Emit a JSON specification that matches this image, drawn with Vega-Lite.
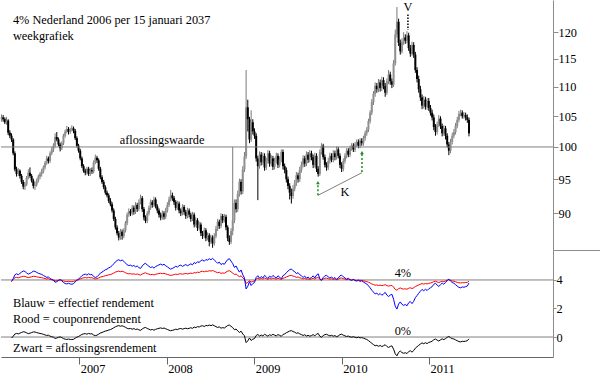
{
"$schema":"https://vega.github.io/schema/vega-lite/v6.json",
"padding":0,"background":"white","spacing":0,"bounds":"flush",
"config":{"view":{"stroke":null},"font":"Liberation Serif",
"axis":{"labelFont":"Liberation Serif","labelFontSize":12.3,"labelColor":"#000","domainColor":"#8c8c8c","tickColor":"#8c8c8c","grid":false,"title":null},
"text":{"font":"Liberation Serif","fontSize":12.3,"color":"#000"}},
"datasets":{"weeks":[
{"d":"2006-02-10","o":104.6,"h":105.3,"l":104.1,"c":104.8},
{"d":"2006-02-17","o":104.8,"h":105.2,"l":104.1,"c":104.5},
{"d":"2006-02-24","o":104.5,"h":104.8,"l":103.7,"c":104.0},
{"d":"2006-03-03","o":104.0,"h":104.9,"l":103.6,"c":104.3},
{"d":"2006-03-10","o":104.3,"h":104.5,"l":101.9,"c":102.3},
{"d":"2006-03-17","o":102.3,"h":102.7,"l":101.4,"c":101.8},
{"d":"2006-03-24","o":101.8,"h":102.2,"l":100.8,"c":101.2,"e":3.88,"r":3.95,"a":-0.07},
{"d":"2006-03-31","o":101.2,"h":101.4,"l":98.7,"c":99.0,"e":4.10,"r":4.04,"a":0.06},
{"d":"2006-04-07","o":99.0,"h":99.3,"l":96.2,"c":96.5,"e":4.36,"r":4.15,"a":0.21},
{"d":"2006-04-14","o":96.5,"h":96.9,"l":95.4,"c":95.8,"e":4.43,"r":4.18,"a":0.25},
{"d":"2006-04-21","o":95.8,"h":96.7,"l":95.5,"c":96.3,"e":4.37,"r":4.15,"a":0.22},
{"d":"2006-04-28","o":96.3,"h":96.5,"l":95.1,"c":95.5,"e":4.46,"r":4.19,"a":0.27},
{"d":"2006-05-05","o":95.5,"h":95.8,"l":94.3,"c":94.6,"e":4.55,"r":4.23,"a":0.32},
{"d":"2006-05-12","o":94.6,"h":94.9,"l":93.5,"c":93.9,"e":4.63,"r":4.26,"a":0.37},
{"d":"2006-05-19","o":93.9,"h":94.6,"l":93.4,"c":94.2,"e":4.60,"r":4.25,"a":0.35},
{"d":"2006-05-26","o":94.2,"h":95.5,"l":94.0,"c":95.2,"e":4.49,"r":4.20,"a":0.29},
{"d":"2006-06-02","o":95.2,"h":96.5,"l":95.0,"c":96.0,"e":4.41,"r":4.17,"a":0.24},
{"d":"2006-06-09","o":96.0,"h":96.8,"l":95.2,"c":95.5,"e":4.46,"r":4.19,"a":0.27},
{"d":"2006-06-16","o":95.5,"h":95.8,"l":94.5,"c":94.8,"e":4.53,"r":4.22,"a":0.31},
{"d":"2006-06-23","o":94.8,"h":95.1,"l":93.6,"c":94.0,"e":4.62,"r":4.26,"a":0.36},
{"d":"2006-06-30","o":94.0,"h":94.6,"l":93.4,"c":94.2,"e":4.60,"r":4.25,"a":0.35},
{"d":"2006-07-07","o":94.2,"h":95.1,"l":93.9,"c":94.8,"e":4.53,"r":4.22,"a":0.31},
{"d":"2006-07-14","o":94.8,"h":95.7,"l":94.5,"c":95.4,"e":4.47,"r":4.19,"a":0.28},
{"d":"2006-07-21","o":95.4,"h":96.1,"l":95.0,"c":95.8,"e":4.43,"r":4.18,"a":0.25},
{"d":"2006-07-28","o":95.8,"h":96.6,"l":95.4,"c":96.2,"e":4.39,"r":4.16,"a":0.23},
{"d":"2006-08-04","o":96.2,"h":97.1,"l":95.9,"c":96.8,"e":4.32,"r":4.13,"a":0.19},
{"d":"2006-08-11","o":96.8,"h":97.8,"l":96.5,"c":97.5,"e":4.25,"r":4.10,"a":0.15},
{"d":"2006-08-18","o":97.5,"h":98.6,"l":97.2,"c":98.2,"e":4.18,"r":4.07,"a":0.11},
{"d":"2006-08-25","o":98.2,"h":98.5,"l":97.4,"c":97.8,"e":4.22,"r":4.09,"a":0.13},
{"d":"2006-09-01","o":97.8,"h":99.3,"l":97.5,"c":99.0,"e":4.10,"r":4.04,"a":0.06},
{"d":"2006-09-08","o":99.0,"h":100.0,"l":98.7,"c":99.6,"e":4.04,"r":4.02,"a":0.02},
{"d":"2006-09-15","o":99.6,"h":100.6,"l":99.2,"c":100.2,"e":3.98,"r":3.99,"a":-0.01},
{"d":"2006-09-22","o":100.2,"h":102.2,"l":99.9,"c":101.6,"e":3.84,"r":3.94,"a":-0.10},
{"d":"2006-09-29","o":101.6,"h":102.4,"l":100.9,"c":101.2,"e":3.88,"r":3.95,"a":-0.07},
{"d":"2006-10-06","o":101.2,"h":101.5,"l":100.1,"c":100.4,"e":3.96,"r":3.98,"a":-0.02},
{"d":"2006-10-13","o":100.4,"h":100.7,"l":99.3,"c":99.8,"e":4.02,"r":4.01,"a":0.01},
{"d":"2006-10-20","o":99.8,"h":100.9,"l":99.5,"c":100.6,"e":3.94,"r":3.98,"a":-0.04},
{"d":"2006-10-27","o":100.6,"h":102.1,"l":100.3,"c":101.8,"e":3.82,"r":3.93,"a":-0.11},
{"d":"2006-11-03","o":101.8,"h":102.8,"l":101.5,"c":102.5,"e":3.75,"r":3.90,"a":-0.15},
{"d":"2006-11-10","o":102.5,"h":103.4,"l":102.2,"c":102.9,"e":3.72,"r":3.89,"a":-0.17},
{"d":"2006-11-17","o":102.9,"h":103.2,"l":102.0,"c":102.4,"e":3.77,"r":3.91,"a":-0.14},
{"d":"2006-11-24","o":102.4,"h":103.1,"l":102.1,"c":102.8,"e":3.72,"r":3.89,"a":-0.17},
{"d":"2006-12-01","o":102.8,"h":103.5,"l":102.5,"c":103.0,"e":3.70,"r":3.88,"a":-0.18},
{"d":"2006-12-08","o":103.0,"h":103.3,"l":102.2,"c":102.6,"e":3.74,"r":3.90,"a":-0.16},
{"d":"2006-12-15","o":102.6,"h":102.9,"l":101.1,"c":101.4,"e":3.86,"r":3.94,"a":-0.08},
{"d":"2006-12-22","o":101.4,"h":101.7,"l":99.9,"c":100.2,"e":3.98,"r":3.99,"a":-0.01},
{"d":"2006-12-29","o":100.2,"h":100.5,"l":99.1,"c":99.4,"e":4.06,"r":4.02,"a":0.04},
{"d":"2007-01-05","o":99.4,"h":99.7,"l":97.9,"c":98.2,"e":4.18,"r":4.07,"a":0.11},
{"d":"2007-01-12","o":98.2,"h":98.5,"l":96.7,"c":97.0,"e":4.30,"r":4.12,"a":0.18},
{"d":"2007-01-19","o":97.0,"h":97.3,"l":96.0,"c":96.3,"e":4.37,"r":4.15,"a":0.22},
{"d":"2007-01-26","o":96.3,"h":96.6,"l":95.6,"c":96.0,"e":4.41,"r":4.17,"a":0.24},
{"d":"2007-02-02","o":96.0,"h":96.9,"l":95.7,"c":96.6,"e":4.34,"r":4.14,"a":0.20},
{"d":"2007-02-09","o":96.6,"h":96.9,"l":95.5,"c":95.8,"e":4.43,"r":4.18,"a":0.25},
{"d":"2007-02-16","o":95.8,"h":96.7,"l":95.5,"c":96.4,"e":4.37,"r":4.15,"a":0.22},
{"d":"2007-02-23","o":96.4,"h":96.8,"l":95.8,"c":96.2,"e":4.39,"r":4.16,"a":0.23},
{"d":"2007-03-02","o":96.2,"h":97.9,"l":95.9,"c":97.6,"e":4.24,"r":4.10,"a":0.14},
{"d":"2007-03-09","o":97.6,"h":98.8,"l":97.3,"c":98.3,"e":4.17,"r":4.07,"a":0.10},
{"d":"2007-03-16","o":98.3,"h":98.6,"l":97.5,"c":97.9,"e":4.22,"r":4.09,"a":0.13},
{"d":"2007-03-23","o":97.9,"h":98.2,"l":96.3,"c":96.6,"e":4.34,"r":4.14,"a":0.20},
{"d":"2007-03-30","o":96.6,"h":96.9,"l":95.0,"c":95.3,"e":4.48,"r":4.20,"a":0.28},
{"d":"2007-04-06","o":95.3,"h":95.6,"l":94.3,"c":94.6,"e":4.55,"r":4.23,"a":0.32},
{"d":"2007-04-13","o":94.6,"h":94.9,"l":93.5,"c":93.8,"e":4.63,"r":4.26,"a":0.37},
{"d":"2007-04-20","o":93.8,"h":94.1,"l":92.7,"c":93.0,"e":4.72,"r":4.30,"a":0.42},
{"d":"2007-04-27","o":93.0,"h":93.3,"l":92.3,"c":92.6,"e":4.76,"r":4.32,"a":0.44},
{"d":"2007-05-04","o":92.6,"h":92.9,"l":91.5,"c":91.8,"e":4.85,"r":4.36,"a":0.49},
{"d":"2007-05-11","o":91.8,"h":92.2,"l":91.0,"c":91.3,"e":4.90,"r":4.38,"a":0.52},
{"d":"2007-05-18","o":91.3,"h":91.6,"l":90.1,"c":90.4,"e":5.00,"r":4.42,"a":0.58},
{"d":"2007-05-25","o":90.4,"h":90.7,"l":88.9,"c":89.2,"e":5.13,"r":4.48,"a":0.65},
{"d":"2007-06-01","o":89.2,"h":89.5,"l":87.7,"c":88.0,"e":5.27,"r":4.55,"a":0.72},
{"d":"2007-06-08","o":88.0,"h":88.3,"l":86.9,"c":87.2,"e":5.36,"r":4.59,"a":0.77},
{"d":"2007-06-15","o":87.2,"h":87.5,"l":86.2,"c":86.6,"e":5.42,"r":4.62,"a":0.80},
{"d":"2007-06-22","o":86.6,"h":87.8,"l":86.3,"c":87.4,"e":5.34,"r":4.58,"a":0.76},
{"d":"2007-06-29","o":87.4,"h":87.7,"l":86.3,"c":86.8,"e":5.40,"r":4.61,"a":0.79},
{"d":"2007-07-06","o":86.8,"h":87.9,"l":86.5,"c":87.6,"e":5.31,"r":4.57,"a":0.74},
{"d":"2007-07-13","o":87.6,"h":88.9,"l":87.3,"c":88.6,"e":5.19,"r":4.51,"a":0.68},
{"d":"2007-07-20","o":88.6,"h":90.1,"l":88.3,"c":89.8,"e":5.06,"r":4.45,"a":0.61},
{"d":"2007-07-27","o":89.8,"h":90.7,"l":89.5,"c":90.3,"e":5.01,"r":4.43,"a":0.58},
{"d":"2007-08-03","o":90.3,"h":90.6,"l":89.6,"c":90.0,"e":5.04,"r":4.44,"a":0.60},
{"d":"2007-08-10","o":90.0,"h":91.2,"l":89.7,"c":90.8,"e":4.96,"r":4.41,"a":0.55},
{"d":"2007-08-17","o":90.8,"h":91.1,"l":89.8,"c":90.2,"e":5.02,"r":4.43,"a":0.59},
{"d":"2007-08-24","o":90.2,"h":91.6,"l":89.9,"c":91.2,"e":4.92,"r":4.39,"a":0.53},
{"d":"2007-08-31","o":91.2,"h":91.5,"l":90.2,"c":90.6,"e":4.98,"r":4.42,"a":0.56},
{"d":"2007-09-07","o":90.6,"h":92.0,"l":90.3,"c":91.6,"e":4.87,"r":4.37,"a":0.50},
{"d":"2007-09-14","o":91.6,"h":92.7,"l":91.3,"c":92.2,"e":4.81,"r":4.34,"a":0.47},
{"d":"2007-09-21","o":92.2,"h":92.5,"l":90.2,"c":90.6,"e":4.98,"r":4.42,"a":0.56},
{"d":"2007-09-28","o":90.6,"h":90.9,"l":89.0,"c":89.4,"e":5.11,"r":4.47,"a":0.64},
{"d":"2007-10-05","o":89.4,"h":89.7,"l":88.6,"c":88.9,"e":5.17,"r":4.50,"a":0.67},
{"d":"2007-10-12","o":88.9,"h":90.3,"l":88.6,"c":90.0,"e":5.04,"r":4.44,"a":0.60},
{"d":"2007-10-19","o":90.0,"h":91.1,"l":89.7,"c":90.8,"e":4.96,"r":4.41,"a":0.55},
{"d":"2007-10-26","o":90.8,"h":92.0,"l":90.5,"c":91.6,"e":4.87,"r":4.37,"a":0.50},
{"d":"2007-11-02","o":91.6,"h":91.9,"l":90.8,"c":91.2,"e":4.92,"r":4.39,"a":0.53},
{"d":"2007-11-09","o":91.2,"h":92.4,"l":90.9,"c":92.0,"e":4.83,"r":4.35,"a":0.48},
{"d":"2007-11-16","o":92.0,"h":92.3,"l":90.7,"c":91.0,"e":4.94,"r":4.40,"a":0.54},
{"d":"2007-11-23","o":91.0,"h":91.3,"l":90.0,"c":90.4,"e":5.00,"r":4.42,"a":0.58},
{"d":"2007-11-30","o":90.4,"h":90.7,"l":89.4,"c":89.8,"e":5.06,"r":4.45,"a":0.61},
{"d":"2007-12-07","o":89.8,"h":90.1,"l":89.0,"c":89.4,"e":5.11,"r":4.47,"a":0.64},
{"d":"2007-12-14","o":89.4,"h":90.4,"l":89.1,"c":90.0,"e":5.04,"r":4.44,"a":0.60},
{"d":"2007-12-21","o":90.0,"h":90.3,"l":89.1,"c":89.5,"e":5.10,"r":4.47,"a":0.63},
{"d":"2007-12-28","o":89.5,"h":90.8,"l":89.2,"c":90.4,"e":5.00,"r":4.42,"a":0.58},
{"d":"2008-01-04","o":90.4,"h":91.6,"l":90.1,"c":91.2,"e":4.92,"r":4.39,"a":0.53},
{"d":"2008-01-11","o":91.2,"h":92.4,"l":90.9,"c":92.0,"e":4.83,"r":4.35,"a":0.48},
{"d":"2008-01-18","o":92.0,"h":93.4,"l":91.7,"c":92.6,"e":4.76,"r":4.32,"a":0.44},
{"d":"2008-01-25","o":92.6,"h":93.0,"l":91.8,"c":92.2,"e":4.81,"r":4.34,"a":0.47},
{"d":"2008-02-01","o":92.2,"h":92.5,"l":91.2,"c":91.6,"e":4.87,"r":4.37,"a":0.50},
{"d":"2008-02-08","o":91.6,"h":91.9,"l":90.4,"c":90.8,"e":4.96,"r":4.41,"a":0.55},
{"d":"2008-02-15","o":90.8,"h":91.8,"l":90.5,"c":91.4,"e":4.90,"r":4.38,"a":0.52},
{"d":"2008-02-22","o":91.4,"h":91.7,"l":90.0,"c":90.4,"e":5.00,"r":4.42,"a":0.58},
{"d":"2008-02-29","o":90.4,"h":90.7,"l":89.6,"c":90.0,"e":5.04,"r":4.44,"a":0.60},
{"d":"2008-03-07","o":90.0,"h":91.3,"l":89.7,"c":90.9,"e":4.95,"r":4.40,"a":0.55},
{"d":"2008-03-14","o":90.9,"h":91.2,"l":89.8,"c":90.2,"e":5.02,"r":4.43,"a":0.59},
{"d":"2008-03-21","o":90.2,"h":90.5,"l":89.2,"c":89.6,"e":5.08,"r":4.46,"a":0.62},
{"d":"2008-03-28","o":89.6,"h":90.8,"l":89.3,"c":90.4,"e":5.00,"r":4.42,"a":0.58},
{"d":"2008-04-04","o":90.4,"h":90.7,"l":89.4,"c":89.8,"e":5.06,"r":4.45,"a":0.61},
{"d":"2008-04-11","o":89.8,"h":90.1,"l":88.8,"c":89.2,"e":5.13,"r":4.48,"a":0.65},
{"d":"2008-04-18","o":89.2,"h":90.2,"l":88.9,"c":89.8,"e":5.06,"r":4.45,"a":0.61},
{"d":"2008-04-25","o":89.8,"h":90.1,"l":88.0,"c":88.4,"e":5.22,"r":4.52,"a":0.70},
{"d":"2008-05-02","o":88.4,"h":89.4,"l":88.1,"c":89.0,"e":5.15,"r":4.49,"a":0.66},
{"d":"2008-05-09","o":89.0,"h":89.3,"l":87.5,"c":87.9,"e":5.28,"r":4.55,"a":0.73},
{"d":"2008-05-16","o":87.9,"h":88.8,"l":87.6,"c":88.4,"e":5.22,"r":4.52,"a":0.70},
{"d":"2008-05-23","o":88.4,"h":88.7,"l":86.8,"c":87.2,"e":5.36,"r":4.59,"a":0.77},
{"d":"2008-05-30","o":87.2,"h":87.5,"l":86.4,"c":86.8,"e":5.40,"r":4.61,"a":0.79},
{"d":"2008-06-06","o":86.8,"h":88.0,"l":86.5,"c":87.6,"e":5.31,"r":4.57,"a":0.74},
{"d":"2008-06-13","o":87.6,"h":87.9,"l":86.1,"c":86.5,"e":5.43,"r":4.62,"a":0.81},
{"d":"2008-06-20","o":86.5,"h":87.3,"l":86.2,"c":86.9,"e":5.39,"r":4.60,"a":0.79},
{"d":"2008-06-27","o":86.9,"h":87.2,"l":85.4,"c":86.0,"e":5.49,"r":4.65,"a":0.84},
{"d":"2008-07-04","o":86.0,"h":87.0,"l":85.7,"c":86.6,"e":5.42,"r":4.62,"a":0.80},
{"d":"2008-07-11","o":86.6,"h":86.9,"l":85.2,"c":85.8,"e":5.51,"r":4.66,"a":0.85},
{"d":"2008-07-18","o":85.8,"h":87.2,"l":85.5,"c":86.8,"e":5.40,"r":4.61,"a":0.79},
{"d":"2008-07-25","o":86.8,"h":88.2,"l":86.5,"c":87.8,"e":5.29,"r":4.56,"a":0.73},
{"d":"2008-08-01","o":87.8,"h":89.2,"l":87.5,"c":88.8,"e":5.17,"r":4.50,"a":0.67},
{"d":"2008-08-08","o":88.8,"h":89.1,"l":87.8,"c":88.2,"e":5.25,"r":4.54,"a":0.71},
{"d":"2008-08-15","o":88.2,"h":90.0,"l":87.9,"c":89.6,"e":5.08,"r":4.46,"a":0.62},
{"d":"2008-08-22","o":89.6,"h":89.9,"l":88.6,"c":89.0,"e":5.15,"r":4.49,"a":0.66},
{"d":"2008-08-29","o":89.0,"h":89.9,"l":88.7,"c":89.5,"e":5.10,"r":4.47,"a":0.63},
{"d":"2008-09-05","o":89.5,"h":89.8,"l":87.6,"c":88.0,"e":5.27,"r":4.55,"a":0.72},
{"d":"2008-09-12","o":88.0,"h":88.3,"l":86.1,"c":86.5,"e":5.43,"r":4.62,"a":0.81},
{"d":"2008-09-19","o":86.5,"h":86.9,"l":85.6,"c":86.0,"e":5.49,"r":4.65,"a":0.84},
{"d":"2008-09-26","o":86.0,"h":87.9,"l":85.7,"c":87.5,"e":5.32,"r":4.57,"a":0.75},
{"d":"2008-10-03","o":87.5,"h":100.0,"l":86.9,"c":89.0,"e":5.15,"r":4.49,"a":0.66},
{"d":"2008-10-10","o":89.0,"h":92.0,"l":88.6,"c":91.5,"e":4.88,"r":4.37,"a":0.51},
{"d":"2008-10-17","o":91.5,"h":92.0,"l":90.1,"c":90.6,"e":4.98,"r":4.42,"a":0.56},
{"d":"2008-10-24","o":90.6,"h":93.3,"l":90.2,"c":92.8,"e":4.74,"r":4.31,"a":0.43},
{"d":"2008-10-31","o":92.8,"h":95.1,"l":92.4,"c":94.6,"e":4.55,"r":4.23,"a":0.32},
{"d":"2008-11-07","o":94.6,"h":95.0,"l":92.7,"c":93.2,"e":4.70,"r":4.29,"a":0.41},
{"d":"2008-11-14","o":93.2,"h":97.0,"l":92.8,"c":96.5,"e":4.36,"r":4.15,"a":0.21},
{"d":"2008-11-21","o":96.5,"h":99.2,"l":96.1,"c":98.5,"e":4.15,"r":4.06,"a":0.09},
{"d":"2008-11-28","o":98.5,"h":113.0,"l":98.1,"c":106.5,"e":3.37,"r":3.76,"a":-0.39},
{"d":"2008-12-05","o":106.5,"h":107.8,"l":102.5,"c":104.5,"e":3.56,"r":3.83,"a":-0.27},
{"d":"2008-12-12","o":104.5,"h":104.9,"l":100.6,"c":101.2,"e":3.88,"r":3.95,"a":-0.07},
{"d":"2008-12-19","o":101.2,"h":106.0,"l":100.8,"c":104.0,"e":3.61,"r":3.85,"a":-0.24},
{"d":"2008-12-26","o":104.0,"h":104.5,"l":102.0,"c":102.5,"e":3.75,"r":3.90,"a":-0.15},
{"d":"2009-01-02","o":102.5,"h":103.0,"l":101.3,"c":101.8,"e":3.82,"r":3.93,"a":-0.11},
{"d":"2009-01-09","o":101.8,"h":102.2,"l":97.7,"c":98.2,"e":4.18,"r":4.07,"a":0.11},
{"d":"2009-01-16","o":98.2,"h":98.6,"l":91.9,"c":97.0,"e":4.30,"r":4.12,"a":0.18},
{"d":"2009-01-23","o":97.0,"h":99.3,"l":96.6,"c":98.8,"e":4.12,"r":4.05,"a":0.07},
{"d":"2009-01-30","o":98.8,"h":99.2,"l":97.1,"c":97.6,"e":4.24,"r":4.10,"a":0.14},
{"d":"2009-02-06","o":97.6,"h":99.1,"l":97.2,"c":98.6,"e":4.14,"r":4.06,"a":0.08},
{"d":"2009-02-13","o":98.6,"h":99.0,"l":96.3,"c":96.8,"e":4.32,"r":4.13,"a":0.19},
{"d":"2009-02-20","o":96.8,"h":98.3,"l":96.4,"c":97.8,"e":4.22,"r":4.09,"a":0.13},
{"d":"2009-02-27","o":97.8,"h":99.5,"l":97.4,"c":99.0,"e":4.10,"r":4.04,"a":0.06},
{"d":"2009-03-06","o":99.0,"h":99.4,"l":96.9,"c":97.4,"e":4.27,"r":4.11,"a":0.16},
{"d":"2009-03-13","o":97.4,"h":98.7,"l":97.0,"c":98.2,"e":4.18,"r":4.07,"a":0.11},
{"d":"2009-03-20","o":98.2,"h":98.6,"l":96.4,"c":96.9,"e":4.32,"r":4.13,"a":0.19},
{"d":"2009-03-27","o":96.9,"h":98.3,"l":96.5,"c":97.8,"e":4.22,"r":4.09,"a":0.13},
{"d":"2009-04-03","o":97.8,"h":99.1,"l":97.4,"c":98.6,"e":4.14,"r":4.06,"a":0.08},
{"d":"2009-04-10","o":98.6,"h":99.0,"l":96.7,"c":97.2,"e":4.29,"r":4.12,"a":0.17},
{"d":"2009-04-17","o":97.2,"h":98.5,"l":96.8,"c":98.0,"e":4.20,"r":4.08,"a":0.12},
{"d":"2009-04-24","o":98.0,"h":99.6,"l":97.6,"c":99.2,"e":4.08,"r":4.03,"a":0.05},
{"d":"2009-05-01","o":99.2,"h":99.6,"l":96.5,"c":97.0,"e":4.30,"r":4.12,"a":0.18},
{"d":"2009-05-08","o":97.0,"h":97.4,"l":95.9,"c":96.4,"e":4.37,"r":4.15,"a":0.22},
{"d":"2009-05-15","o":96.4,"h":96.8,"l":94.5,"c":95.0,"e":4.51,"r":4.21,"a":0.30},
{"d":"2009-05-22","o":95.0,"h":95.4,"l":93.5,"c":94.0,"e":4.62,"r":4.26,"a":0.36},
{"d":"2009-05-29","o":94.0,"h":94.4,"l":92.0,"c":93.0,"e":4.72,"r":4.30,"a":0.42},
{"d":"2009-06-05","o":93.0,"h":93.6,"l":91.4,"c":92.5,"e":4.77,"r":4.32,"a":0.45},
{"d":"2009-06-12","o":92.5,"h":94.1,"l":92.1,"c":93.6,"e":4.65,"r":4.27,"a":0.38},
{"d":"2009-06-19","o":93.6,"h":94.9,"l":93.2,"c":94.4,"e":4.58,"r":4.24,"a":0.34},
{"d":"2009-06-26","o":94.4,"h":96.1,"l":94.0,"c":95.6,"e":4.44,"r":4.18,"a":0.26},
{"d":"2009-07-03","o":95.6,"h":96.0,"l":94.5,"c":95.0,"e":4.51,"r":4.21,"a":0.30},
{"d":"2009-07-10","o":95.0,"h":96.9,"l":94.6,"c":96.4,"e":4.37,"r":4.15,"a":0.22},
{"d":"2009-07-17","o":96.4,"h":97.7,"l":96.0,"c":97.2,"e":4.29,"r":4.12,"a":0.17},
{"d":"2009-07-24","o":97.2,"h":98.7,"l":96.8,"c":98.2,"e":4.18,"r":4.07,"a":0.11},
{"d":"2009-07-31","o":98.2,"h":98.6,"l":96.9,"c":97.4,"e":4.27,"r":4.11,"a":0.16},
{"d":"2009-08-07","o":97.4,"h":99.3,"l":97.0,"c":98.8,"e":4.12,"r":4.05,"a":0.07},
{"d":"2009-08-14","o":98.8,"h":99.2,"l":97.5,"c":98.0,"e":4.20,"r":4.08,"a":0.12},
{"d":"2009-08-21","o":98.0,"h":99.5,"l":97.6,"c":99.0,"e":4.10,"r":4.04,"a":0.06},
{"d":"2009-08-28","o":99.0,"h":99.4,"l":97.9,"c":98.4,"e":4.17,"r":4.07,"a":0.10},
{"d":"2009-09-04","o":98.4,"h":98.8,"l":96.7,"c":97.2,"e":4.29,"r":4.12,"a":0.17},
{"d":"2009-09-11","o":97.2,"h":99.1,"l":96.8,"c":98.6,"e":4.14,"r":4.06,"a":0.08},
{"d":"2009-09-18","o":98.6,"h":99.0,"l":96.1,"c":96.6,"e":4.34,"r":4.14,"a":0.20},
{"d":"2009-09-25","o":96.6,"h":97.0,"l":95.4,"c":95.8,"e":4.43,"r":4.18,"a":0.25},
{"d":"2009-10-02","o":95.8,"h":99.6,"l":95.5,"c":99.2,"e":4.08,"r":4.03,"a":0.05},
{"d":"2009-10-09","o":99.2,"h":100.6,"l":98.8,"c":100.2,"e":3.98,"r":3.99,"a":-0.01},
{"d":"2009-10-16","o":100.2,"h":100.5,"l":98.0,"c":98.4,"e":4.17,"r":4.07,"a":0.10},
{"d":"2009-10-23","o":98.4,"h":98.8,"l":96.8,"c":97.2,"e":4.29,"r":4.12,"a":0.17},
{"d":"2009-10-30","o":97.2,"h":97.6,"l":96.3,"c":96.8,"e":4.32,"r":4.13,"a":0.19},
{"d":"2009-11-06","o":96.8,"h":98.3,"l":96.4,"c":97.8,"e":4.22,"r":4.09,"a":0.13},
{"d":"2009-11-13","o":97.8,"h":99.1,"l":97.4,"c":98.6,"e":4.14,"r":4.06,"a":0.08},
{"d":"2009-11-20","o":98.6,"h":99.0,"l":97.6,"c":98.0,"e":4.20,"r":4.08,"a":0.12},
{"d":"2009-11-27","o":98.0,"h":99.5,"l":97.6,"c":99.0,"e":4.10,"r":4.04,"a":0.06},
{"d":"2009-12-04","o":99.0,"h":99.4,"l":97.9,"c":98.4,"e":4.17,"r":4.07,"a":0.10},
{"d":"2009-12-11","o":98.4,"h":100.1,"l":98.0,"c":99.6,"e":4.04,"r":4.02,"a":0.02},
{"d":"2009-12-18","o":99.6,"h":100.0,"l":98.2,"c":98.6,"e":4.14,"r":4.06,"a":0.08},
{"d":"2009-12-25","o":98.6,"h":99.0,"l":96.7,"c":97.2,"e":4.29,"r":4.12,"a":0.17},
{"d":"2010-01-01","o":97.2,"h":97.6,"l":96.1,"c":96.6,"e":4.34,"r":4.14,"a":0.20},
{"d":"2010-01-08","o":96.6,"h":98.2,"l":96.2,"c":97.8,"e":4.22,"r":4.09,"a":0.13},
{"d":"2010-01-15","o":97.8,"h":99.0,"l":97.4,"c":98.6,"e":4.14,"r":4.06,"a":0.08},
{"d":"2010-01-22","o":98.6,"h":99.8,"l":98.2,"c":99.4,"e":4.06,"r":4.02,"a":0.04},
{"d":"2010-01-29","o":99.4,"h":99.8,"l":98.4,"c":98.8,"e":4.12,"r":4.05,"a":0.07},
{"d":"2010-02-05","o":98.8,"h":100.2,"l":98.4,"c":99.8,"e":4.02,"r":4.01,"a":0.01},
{"d":"2010-02-12","o":99.8,"h":100.6,"l":99.4,"c":100.2,"e":3.98,"r":3.99,"a":-0.01},
{"d":"2010-02-19","o":100.2,"h":100.6,"l":99.2,"c":99.6,"e":4.04,"r":4.02,"a":0.02},
{"d":"2010-02-26","o":99.6,"h":100.8,"l":99.2,"c":100.4,"e":3.96,"r":3.98,"a":-0.02},
{"d":"2010-03-05","o":100.4,"h":101.2,"l":100.0,"c":100.8,"e":3.92,"r":3.97,"a":-0.05},
{"d":"2010-03-12","o":100.8,"h":101.2,"l":99.8,"c":100.2,"e":3.98,"r":3.99,"a":-0.01},
{"d":"2010-03-19","o":100.2,"h":101.4,"l":99.8,"c":101.0,"e":3.90,"r":3.96,"a":-0.06},
{"d":"2010-03-26","o":101.0,"h":101.4,"l":100.2,"c":100.6,"e":3.94,"r":3.98,"a":-0.04},
{"d":"2010-04-02","o":100.6,"h":101.8,"l":100.2,"c":101.4,"e":3.86,"r":3.94,"a":-0.08},
{"d":"2010-04-09","o":101.4,"h":102.6,"l":101.0,"c":102.2,"e":3.78,"r":3.91,"a":-0.13},
{"d":"2010-04-16","o":102.2,"h":103.2,"l":101.8,"c":102.8,"e":3.72,"r":3.89,"a":-0.17},
{"d":"2010-04-23","o":102.8,"h":104.6,"l":102.4,"c":104.2,"e":3.59,"r":3.84,"a":-0.25},
{"d":"2010-04-30","o":104.2,"h":106.0,"l":103.8,"c":105.6,"e":3.45,"r":3.79,"a":-0.34},
{"d":"2010-05-07","o":105.6,"h":107.9,"l":105.2,"c":107.4,"e":3.28,"r":3.72,"a":-0.44},
{"d":"2010-05-14","o":107.4,"h":109.3,"l":106.9,"c":108.8,"e":3.15,"r":3.68,"a":-0.53},
{"d":"2010-05-21","o":108.8,"h":110.8,"l":108.3,"c":110.2,"e":3.02,"r":3.63,"a":-0.61},
{"d":"2010-05-28","o":110.2,"h":110.7,"l":109.0,"c":109.6,"e":3.07,"r":3.65,"a":-0.58},
{"d":"2010-06-04","o":109.6,"h":111.4,"l":109.1,"c":110.8,"e":2.96,"r":3.61,"a":-0.65},
{"d":"2010-06-11","o":110.8,"h":111.3,"l":109.2,"c":109.8,"e":3.05,"r":3.64,"a":-0.59},
{"d":"2010-06-18","o":109.8,"h":111.8,"l":109.3,"c":111.2,"e":2.93,"r":3.60,"a":-0.67},
{"d":"2010-06-25","o":111.2,"h":111.7,"l":109.6,"c":110.2,"e":3.02,"r":3.63,"a":-0.61},
{"d":"2010-07-02","o":110.2,"h":110.7,"l":108.3,"c":109.0,"e":3.13,"r":3.67,"a":-0.54},
{"d":"2010-07-09","o":109.0,"h":111.5,"l":108.6,"c":111.0,"e":2.94,"r":3.60,"a":-0.66},
{"d":"2010-07-16","o":111.0,"h":113.0,"l":110.5,"c":112.2,"e":2.84,"r":3.57,"a":-0.73},
{"d":"2010-07-23","o":112.2,"h":112.7,"l":110.4,"c":111.0,"e":2.94,"r":3.60,"a":-0.66},
{"d":"2010-07-30","o":111.0,"h":111.5,"l":109.8,"c":110.4,"e":3.00,"r":3.62,"a":-0.62},
{"d":"2010-08-06","o":110.4,"h":114.8,"l":110.0,"c":114.2,"e":2.65,"r":3.50,"a":-0.85},
{"d":"2010-08-13","o":114.2,"h":120.5,"l":113.8,"c":119.6,"e":2.16,"r":3.34,"a":-1.18},
{"d":"2010-08-20","o":119.6,"h":124.9,"l":119.0,"c":122.0,"e":1.96,"r":3.28,"a":-1.32},
{"d":"2010-08-27","o":122.0,"h":122.6,"l":117.4,"c":118.0,"e":2.31,"r":3.39,"a":-1.08},
{"d":"2010-09-03","o":118.0,"h":118.6,"l":115.8,"c":116.4,"e":2.46,"r":3.44,"a":-0.98},
{"d":"2010-09-10","o":116.4,"h":118.8,"l":116.0,"c":118.2,"e":2.29,"r":3.38,"a":-1.09},
{"d":"2010-09-17","o":118.2,"h":120.0,"l":117.6,"c":119.0,"e":2.22,"r":3.36,"a":-1.14},
{"d":"2010-09-24","o":119.0,"h":119.6,"l":117.8,"c":118.4,"e":2.28,"r":3.38,"a":-1.10},
{"d":"2010-10-01","o":118.4,"h":120.2,"l":117.9,"c":119.4,"e":2.19,"r":3.35,"a":-1.16},
{"d":"2010-10-08","o":119.4,"h":119.9,"l":116.5,"c":117.0,"e":2.40,"r":3.42,"a":-1.02},
{"d":"2010-10-15","o":117.0,"h":117.6,"l":115.4,"c":116.0,"e":2.49,"r":3.45,"a":-0.96},
{"d":"2010-10-22","o":116.0,"h":118.2,"l":115.6,"c":117.6,"e":2.34,"r":3.40,"a":-1.06},
{"d":"2010-10-29","o":117.6,"h":118.1,"l":115.2,"c":115.8,"e":2.50,"r":3.45,"a":-0.95},
{"d":"2010-11-05","o":115.8,"h":116.3,"l":112.5,"c":113.0,"e":2.76,"r":3.54,"a":-0.78},
{"d":"2010-11-12","o":113.0,"h":113.5,"l":110.8,"c":111.4,"e":2.91,"r":3.59,"a":-0.68},
{"d":"2010-11-19","o":111.4,"h":112.0,"l":109.0,"c":109.6,"e":3.07,"r":3.65,"a":-0.58},
{"d":"2010-11-26","o":109.6,"h":110.2,"l":107.6,"c":108.2,"e":3.21,"r":3.70,"a":-0.49},
{"d":"2010-12-03","o":108.2,"h":108.7,"l":106.2,"c":106.8,"e":3.34,"r":3.75,"a":-0.41},
{"d":"2010-12-10","o":106.8,"h":108.4,"l":106.3,"c":107.8,"e":3.24,"r":3.71,"a":-0.47},
{"d":"2010-12-17","o":107.8,"h":108.3,"l":106.1,"c":106.6,"e":3.35,"r":3.75,"a":-0.40},
{"d":"2010-12-24","o":106.6,"h":108.1,"l":106.1,"c":107.6,"e":3.26,"r":3.72,"a":-0.46},
{"d":"2010-12-31","o":107.6,"h":108.1,"l":105.9,"c":106.4,"e":3.38,"r":3.76,"a":-0.38},
{"d":"2011-01-07","o":106.4,"h":106.9,"l":105.1,"c":105.6,"e":3.45,"r":3.79,"a":-0.34},
{"d":"2011-01-14","o":105.6,"h":106.1,"l":104.3,"c":104.8,"e":3.53,"r":3.82,"a":-0.29},
{"d":"2011-01-21","o":104.8,"h":105.3,"l":102.7,"c":103.2,"e":3.69,"r":3.88,"a":-0.19},
{"d":"2011-01-28","o":103.2,"h":103.7,"l":101.8,"c":102.4,"e":3.77,"r":3.91,"a":-0.14},
{"d":"2011-02-04","o":102.4,"h":104.1,"l":102.0,"c":103.6,"e":3.64,"r":3.86,"a":-0.22},
{"d":"2011-02-11","o":103.6,"h":105.2,"l":103.2,"c":104.6,"e":3.54,"r":3.82,"a":-0.28},
{"d":"2011-02-18","o":104.6,"h":105.0,"l":102.9,"c":103.4,"e":3.67,"r":3.87,"a":-0.20},
{"d":"2011-02-25","o":103.4,"h":103.8,"l":101.7,"c":102.2,"e":3.78,"r":3.91,"a":-0.13},
{"d":"2011-03-04","o":102.2,"h":103.5,"l":101.8,"c":103.0,"e":3.70,"r":3.88,"a":-0.18},
{"d":"2011-03-11","o":103.0,"h":103.4,"l":101.2,"c":101.8,"e":3.82,"r":3.93,"a":-0.11},
{"d":"2011-03-18","o":101.8,"h":102.2,"l":99.9,"c":100.4,"e":3.96,"r":3.98,"a":-0.02},
{"d":"2011-03-25","o":100.4,"h":100.8,"l":98.7,"c":99.4,"e":4.06,"r":4.02,"a":0.04},
{"d":"2011-04-01","o":99.4,"h":101.3,"l":99.0,"c":100.8,"e":3.92,"r":3.97,"a":-0.05},
{"d":"2011-04-08","o":100.8,"h":102.3,"l":100.4,"c":101.8,"e":3.82,"r":3.93,"a":-0.11},
{"d":"2011-04-15","o":101.8,"h":102.9,"l":101.4,"c":102.4,"e":3.77,"r":3.91,"a":-0.14},
{"d":"2011-04-22","o":102.4,"h":103.9,"l":102.0,"c":103.4,"e":3.67,"r":3.87,"a":-0.20},
{"d":"2011-04-29","o":103.4,"h":104.9,"l":103.0,"c":104.4,"e":3.57,"r":3.83,"a":-0.26},
{"d":"2011-05-06","o":104.4,"h":105.9,"l":104.0,"c":105.4,"e":3.48,"r":3.80,"a":-0.32},
{"d":"2011-05-13","o":105.4,"h":106.1,"l":105.0,"c":105.6,"e":3.45,"r":3.79,"a":-0.34},
{"d":"2011-05-20","o":105.6,"h":106.0,"l":104.6,"c":105.0,"e":3.51,"r":3.81,"a":-0.30},
{"d":"2011-05-27","o":105.0,"h":105.7,"l":104.6,"c":105.2,"e":3.49,"r":3.80,"a":-0.31},
{"d":"2011-06-03","o":105.2,"h":105.6,"l":104.3,"c":104.8,"e":3.53,"r":3.82,"a":-0.29},
{"d":"2011-06-10","o":104.8,"h":105.3,"l":103.9,"c":104.4,"e":3.57,"r":3.83,"a":-0.26},
{"d":"2011-06-17","o":104.4,"h":104.8,"l":101.7,"c":102.2,"e":3.78,"r":3.91,"a":-0.13}
]},
"resolve":{"scale":{"x":"independent","y":"independent"}},
"vconcat":[
{"width":552,"height":250,
"layer":[
{"data":{"name":"weeks"},"mark":{"type":"rule","strokeWidth":1},
"encoding":{
"x":{"field":"d","type":"temporal","scale":{"domain":[{"year":2006,"month":2,"date":8},{"year":2012,"month":6,"date":2}]},"axis":null},
"y":{"field":"l","type":"quantitative","scale":{"type":"log","domain":[84.9,126.3],"nice":false,"zero":false},
"axis":{"orient":"right","values":[84.9,90,95,100,105,110,115,120],"format":"d","labelExpr":"datum.value < 85 ? '' : datum.label","tickSize":{"condition":{"test":"datum.value < 85","value":48},"value":5},"labelPadding":0,"labelBaseline":"middle","labelFlush":false,"labelOverlap":false}},
"y2":{"field":"h"},
"color":{"condition":{"test":"datum.c < datum.o","value":"#000000"},"value":"#7a7a7a"}}},
{"data":{"name":"weeks"},"mark":{"type":"rule","strokeWidth":2},
"encoding":{"x":{"field":"d","type":"temporal"},"y":{"field":"o","type":"quantitative"},"y2":{"field":"c"},
"color":{"condition":{"test":"datum.c < datum.o","value":"#000000"},"value":"#8f8f8f"}}},
{"data":{"values":[{"v":100}]},"mark":{"type":"rule","color":"#808080","strokeWidth":1},"encoding":{"y":{"field":"v","type":"quantitative"}}},
{"data":{"values":[{"d":"2009-09-24","v":92.6,"d2":"2010-03-27","v2":96.0}]},"mark":{"type":"rule","color":"#808080","strokeWidth":1},
"encoding":{"x":{"field":"d","type":"temporal"},"x2":{"field":"d2"},"y":{"field":"v","type":"quantitative"},"y2":{"field":"v2"}}},
{"data":{"values":[{"d":"2009-09-24","v":92.6,"v2":94.3},{"d":"2010-03-27","v":96.1,"v2":98.9}]},"mark":{"type":"rule","color":"#1e8c1e","strokeWidth":1.5,"strokeDash":[2,2]},
"encoding":{"x":{"field":"d","type":"temporal"},"y":{"field":"v","type":"quantitative"},"y2":{"field":"v2"}}},
{"data":{"values":[{"d":"2009-09-24","v":94.5},{"d":"2010-03-27","v":99.1}]},"mark":{"type":"point","shape":"triangle-up","filled":true,"color":"#1e8c1e","size":14,"opacity":1},
"encoding":{"x":{"field":"d","type":"temporal"},"y":{"field":"v","type":"quantitative"}}},
{"data":{"values":[{"d":"2010-10-05","v":123.4,"v2":120.4}]},"mark":{"type":"rule","color":"#000000","strokeWidth":1.5,"strokeDash":[1.5,1.5]},
"encoding":{"x":{"field":"d","type":"temporal"},"y":{"field":"v","type":"quantitative"},"y2":{"field":"v2"}}},
{"data":{"values":[{"d":"2006-03-30","v":122.4,"t":"4% Nederland 2006 per 15 januari 2037"},{"d":"2006-03-30","v":119.3,"t":"weekgrafiek"},{"d":"2007-06-19","v":101.1,"t":"aflossingswaarde"}]},
"mark":{"type":"text","align":"left","baseline":"middle"},
"encoding":{"x":{"field":"d","type":"temporal"},"y":{"field":"v","type":"quantitative"},"text":{"field":"t"}}},
{"data":{"values":[{"d":"2010-10-05","v":124.9,"t":"V"},{"d":"2010-01-15","v":93.1,"t":"K"}]},
"mark":{"type":"text","align":"center","baseline":"middle"},
"encoding":{"x":{"field":"d","type":"temporal"},"y":{"field":"v","type":"quantitative"},"text":{"field":"t"}}}
]},
{"width":552,"height":107,
"layer":[
{"data":{"values":[{"v":4},{"v":0}]},"mark":{"type":"rule","color":"#808080","strokeWidth":1},
"encoding":{"y":{"field":"v","type":"quantitative","scale":{"domain":[-1.4,6.1],"nice":false,"zero":false},
"axis":{"orient":"right","values":[0,1,2,3,4,5],"labelExpr":"datum.value % 2 == 0 ? datum.label : ''","tickSize":3,"labelPadding":0,"labelBaseline":"middle","labelFlush":false,"labelOverlap":false}}}},
{"data":{"name":"weeks"},"mark":{"type":"line","color":"#ff0000","strokeWidth":1},
"encoding":{"x":{"field":"d","type":"temporal","scale":{"domain":[{"year":2006,"month":2,"date":8},{"year":2012,"month":6,"date":2}]},
"axis":{"orient":"bottom","values":[{"year":2007,"month":1,"date":1},{"year":2008,"month":1,"date":1},{"year":2009,"month":1,"date":1},{"year":2010,"month":1,"date":1},{"year":2011,"month":1,"date":1}],"format":"%Y","labelAlign":"left","labelBaseline":"top","tickSize":7,"labelPadding":-2,"labelOffset":1,"labelFlush":false,"labelOverlap":false,"domainColor":"#666666","tickColor":"#666666"}},
"y":{"field":"r","type":"quantitative"}}},
{"data":{"name":"weeks"},"mark":{"type":"line","color":"#0000ff","strokeWidth":1},
"encoding":{"x":{"field":"d","type":"temporal"},"y":{"field":"e","type":"quantitative"}}},
{"data":{"name":"weeks"},"mark":{"type":"line","color":"#000000","strokeWidth":1},
"encoding":{"x":{"field":"d","type":"temporal"},"y":{"field":"a","type":"quantitative"}}},
{"data":{"values":[{"d":"2006-03-30","v":2.39,"t":"Blauw = effectief rendement"},{"d":"2006-03-30","v":1.27,"t":"Rood = couponrendement"},{"d":"2006-03-30","v":-0.77,"t":"Zwart = aflossingsrendement"}]},
"mark":{"type":"text","align":"left","baseline":"middle"},
"encoding":{"x":{"field":"d","type":"temporal"},"y":{"field":"v","type":"quantitative"},"text":{"field":"t"}}},
{"data":{"values":[{"d":"2010-09-14","v":4.49,"t":"4%"},{"d":"2010-09-14","v":0.42,"t":"0%"}]},
"mark":{"type":"text","align":"center","baseline":"middle"},
"encoding":{"x":{"field":"d","type":"temporal"},"y":{"field":"v","type":"quantitative"},"text":{"field":"t"}}}
]}
]
}
